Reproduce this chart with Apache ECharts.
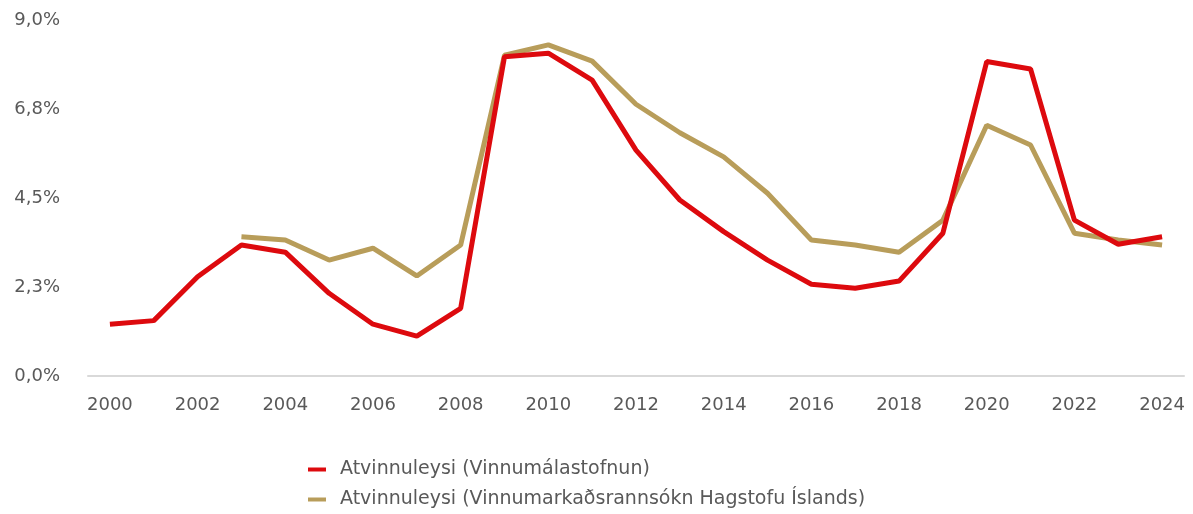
<!DOCTYPE html>
<html>
<head>
<meta charset="utf-8">
<script src="https://cdn.jsdelivr.net/npm/echarts@6/dist/echarts.min.js"></script>
<style>
    html, body { margin: 0; padding: 0; background: #fff; }
    #chart { width: 1193px; height: 514px; }
</style>
</head>
<body>
<div id="chart"></div>
<script>
const years = ['2000', '2001', '2002', '2003', '2004', '2005', '2006', '2007', '2008', '2009', '2010', '2011', '2012',
    '2013', '2014', '2015', '2016', '2017', '2018', '2019', '2020', '2021', '2022', '2023', '2024'];

const vinnumalastofnun = [1.31, 1.40, 2.51, 3.31, 3.13, 2.09, 1.31, 1.01, 1.71, 8.07, 8.16, 7.48, 5.71,
    4.45, 3.65, 2.93, 2.32, 2.22, 2.40, 3.61, 7.95, 7.76, 3.94, 3.33, 3.52];

const hagstofa = [null, null, null, 3.52, 3.44, 2.93, 3.23, 2.53, 3.31, 8.11, 8.37, 7.96, 6.87,
    6.15, 5.54, 4.62, 3.44, 3.31, 3.13, 3.94, 6.34, 5.84, 3.61, 3.44, 3.31];

const seriesNames = ['Atvinnuleysi (Vinnumálastofnun)', 'Atvinnuleysi (Vinnumarkaðsrannsókn Hagstofu Íslands)'];

let chart = echarts.init(document.getElementById('chart'));
let option = {
    animation: false,
    textStyle: { fontFamily: '"DejaVu Sans", sans-serif' },
    color: ['#dd0a0e', '#b89d5a'],
    grid: {
        left: 88,
        right: 9,
        top: 20,
        bottom: 138
    },
    legend: {
        orient: 'vertical',
        left: 308,
        top: 460,
        padding: 0,
        itemGap: 11,
        itemWidth: 18,
        itemHeight: 4,
        icon: 'rect',
        textStyle: { color: '#595959', fontSize: 19, padding: [0, 0, 0, 9] },
        data: seriesNames
    },
    xAxis: {
        type: 'category',
        data: years,
        boundaryGap: true,
        axisLine: { lineStyle: { color: '#d9d9d9', width: 2 } },
        axisTick: { show: false },
        axisLabel: { color: '#595959', fontSize: 18, interval: 1, margin: 20 }
    },
    yAxis: {
        type: 'value',
        min: 0,
        max: 9,
        interval: 2.25,
        splitLine: { show: false },
        axisLine: { show: false },
        axisTick: { show: false },
        axisLabel: {
            color: '#595959',
            fontSize: 18,
            margin: 28,
            formatter: v => v.toFixed(1).replace('.', ',') + '%'
        }
    },
    series: [
        {
            name: seriesNames[0],
            type: 'line',
            data: vinnumalastofnun,
            showSymbol: false,
            z: 3,
            lineStyle: { width: 5 }
        },
        {
            name: seriesNames[1],
            type: 'line',
            data: hagstofa,
            showSymbol: false,
            z: 2,
            lineStyle: { width: 5 }
        }
    ]
};
chart.setOption(option);
</script>
</body>
</html>
